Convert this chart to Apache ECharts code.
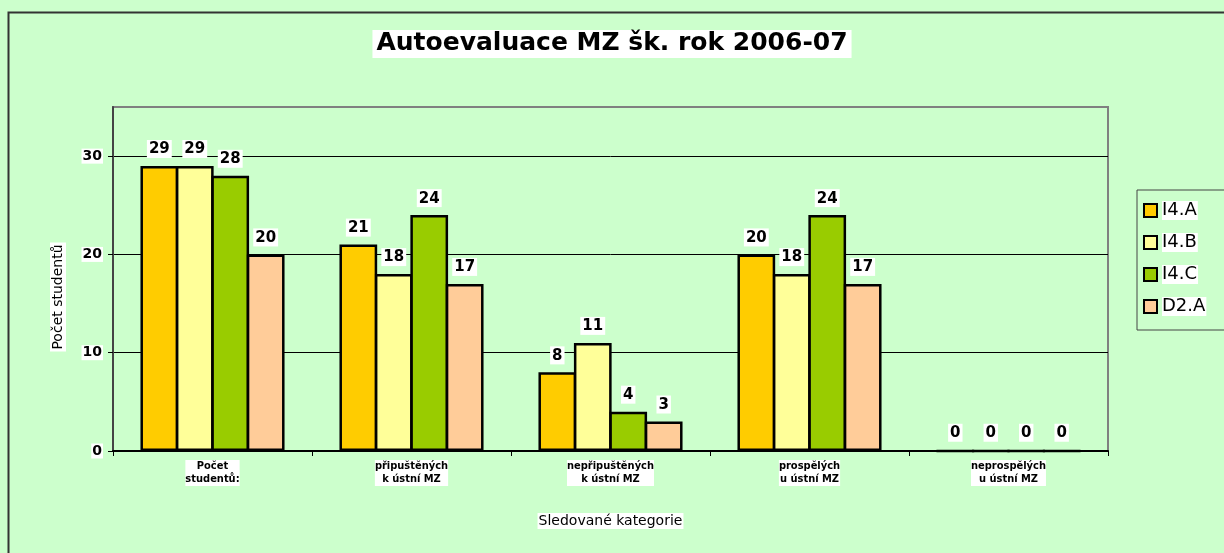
<!DOCTYPE html>
<html>
<head>
<meta charset="utf-8">
<script src="https://cdn.jsdelivr.net/npm/echarts@6/dist/echarts.min.js"></script>
<style>
  html, body { margin: 0; padding: 0; background: #CCFFCC; }
  #chart { width: 1224px; height: 553px; }
</style>
</head>
<body>
<div id="chart"></div>
<script>
// kategorie a hodnoty
var categories = [
  "Počet\nstudentů:",
  "připuštěných\nk ústní MZ",
  "nepřipuštěných\nk ústní MZ",
  "prospělých\nu ústní MZ",
  "neprospělých\nu ústní MZ"
];
var seriesNames = ["I4.A", "I4.B", "I4.C", "D2.A"];
var valuesI4A = [29, 21, 8, 20, 0];
var valuesI4B = [29, 18, 11, 18, 0];
var valuesI4C = [28, 24, 4, 24, 0];
var valuesD2A = [20, 17, 3, 17, 0];
var yTicks = [0, 10, 20, 30];
var colors = ["#FFCC00", "#FFFF99", "#99CC00", "#FFCC99"];

var chart = echarts.init(document.getElementById("chart"));

function barSeries(name, data, color) {
  return {
    name: name,
    type: "bar",
    data: data,
    barGap: "-6%",
    barCategoryGap: "27.6%",
    itemStyle: {
      color: color,
      borderColor: "#000",
      borderWidth: 2.5
    },
    label: {
      show: true,
      position: "top",
      distance: 8,
      color: "#000",
      fontFamily: "DejaVu Sans",
      fontWeight: "bold",
      fontSize: 15,
      backgroundColor: "#fff",
      padding: [2, 2, 1, 2]
    },
    emphasis: { disabled: true }
  };
}

var option = {
  backgroundColor: "#CCFFCC",
  animation: false,
  title: {
    text: "Autoevaluace MZ šk. rok 2006-07",
    left: "center",
    top: 30,
    backgroundColor: "#fff",
    padding: [1, 4, 2, 4],
    textStyle: {
      fontFamily: "DejaVu Sans",
      fontWeight: "bold",
      fontSize: 25,
      color: "#000"
    }
  },
  legend: {
    orient: "vertical",
    left: 1137,
    top: 190,
    width: 100,
    padding: [11, 40, 14, 6],
    itemWidth: 13,
    itemHeight: 13,
    itemGap: 13,
    borderColor: "#444",
    borderWidth: 1,
    icon: "rect",
    data: seriesNames,
    textStyle: {
      fontFamily: "DejaVu Sans",
      fontSize: 18,
      color: "#000",
      backgroundColor: "#fff",
      padding: [1, 1, 0, 0]
    }
  },
  grid: {
    left: 113,
    right: 116,
    top: 107,
    bottom: 102,
    show: true,
    backgroundColor: "transparent",
    borderColor: "#808080",
    borderWidth: 2
  },
  xAxis: {
    type: "category",
    data: categories,
    name: "Sledované kategorie",
    nameLocation: "middle",
    nameGap: 62,
    nameTextStyle: {
      fontFamily: "DejaVu Sans",
      fontSize: 14,
      color: "#000",
      backgroundColor: "#fff",
      padding: [1, 1, 1, 1]
    },
    axisLine: { lineStyle: { color: "#000", width: 2 } },
    axisTick: { show: true, inside: false, length: 5, lineStyle: { color: "#000" } },
    axisLabel: {
      interval: 0,
      margin: 9,
      fontFamily: "DejaVu Sans Condensed",
      fontWeight: "bold",
      fontSize: 11,
      lineHeight: 13,
      color: "#000",
      backgroundColor: "#fff"
    },
    splitLine: { show: false }
  },
  yAxis: {
    type: "value",
    min: 0,
    max: 35,
    interval: 10,
    axisLine: { show: true, lineStyle: { color: "#444", width: 2 } },
    axisTick: {
      show: true,
      inside: false,
      length: 5,
      customValues: yTicks,
      lineStyle: { color: "#000" }
    },
    axisLabel: {
      margin: 10,
      customValues: yTicks,
      fontFamily: "DejaVu Sans",
      fontWeight: "bold",
      fontSize: 14,
      color: "#000",
      backgroundColor: "#fff",
      padding: [1, 1, 0, 1]
    },
    splitLine: {
      show: true,
      lineStyle: { color: ["#000", "#000", "#000", "#000", "#808080"], width: 1 }
    }
  },
  series: [
    barSeries(seriesNames[0], valuesI4A, colors[0]),
    barSeries(seriesNames[1], valuesI4B, colors[1]),
    barSeries(seriesNames[2], valuesI4C, colors[2]),
    barSeries(seriesNames[3], valuesD2A, colors[3])
  ],
  graphic: [
    {
      type: "rect",
      shape: { x: 8.5, y: 12.5, width: 1300, height: 600 },
      style: { fill: "none", stroke: "#333", lineWidth: 2 },
      silent: true,
      z: -1
    },
    {
      type: "text",
      x: 58,
      y: 297,
      rotation: Math.PI / 2,
      style: {
        text: "Počet studentů",
        fontFamily: "DejaVu Sans",
        fontSize: 14,
        fill: "#000",
        align: "center",
        verticalAlign: "middle",
        backgroundColor: "#fff",
        padding: [1, 2, 1, 2]
      }
    }
  ]
};

chart.setOption(option);
</script>
</body>
</html>
